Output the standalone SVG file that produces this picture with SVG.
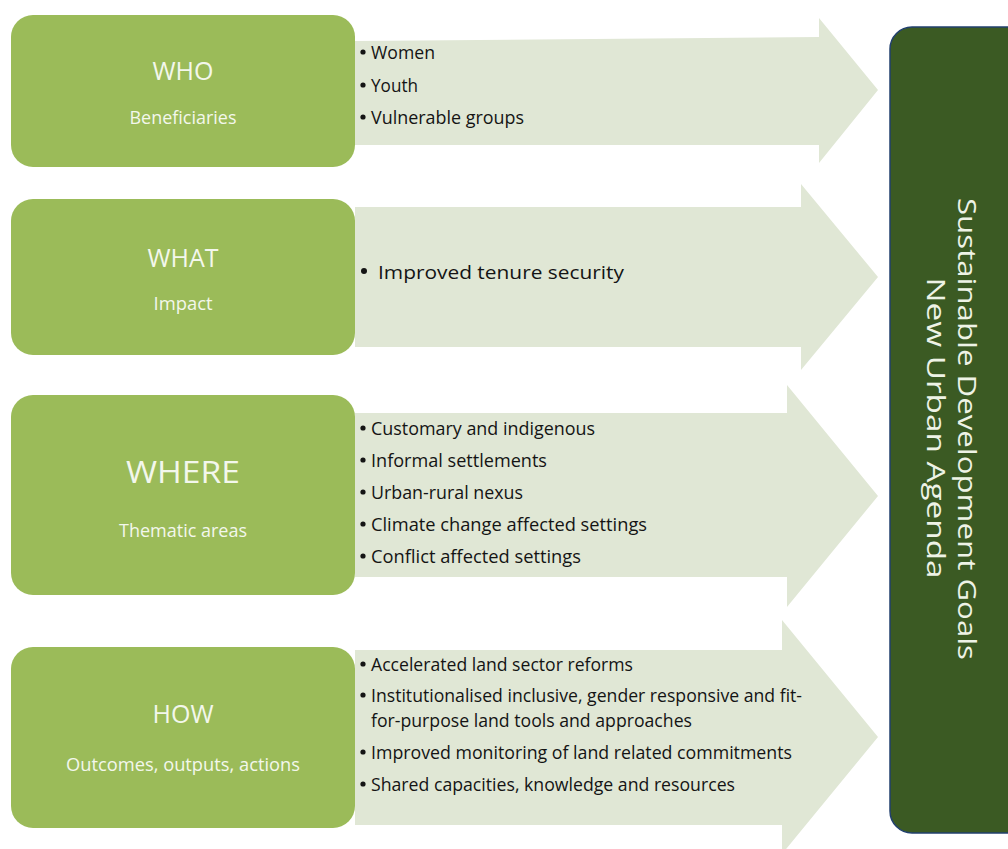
<svg xmlns="http://www.w3.org/2000/svg" width="1008" height="849" viewBox="0 0 1008 849">
<style>
.arrow{fill:#e0e7d5}
.box{fill:#9bbb59}
.h{font-family:"Open Sans","Liberation Sans",sans-serif;fill:#f3f7ec;text-anchor:middle}
.b{font-family:"Open Sans","Liberation Sans",sans-serif;fill:#141414;font-size:19px;font-weight:500}
.d{fill:#141414}
.v{font-family:"Open Sans","Liberation Sans",sans-serif;fill:#eef3e6;font-size:26px;text-anchor:middle}
</style>
<rect width="1008" height="849" fill="#ffffff"/>
<g id="connectors">
<polygon class="arrow" points="355,41 819,37 819,18 878,90 819,163 819,145 355,145"/>
<polygon class="arrow" points="355,207 801,207 801,184 878,277 801,370 801,347 355,347"/>
<polygon class="arrow" points="355,413 787,413 787,385 878,496 787,607 787,577 355,577"/>
<polygon class="arrow" points="355,650 782,650 782,620 878,737 782,854 782,825 355,825"/>
</g>
<g id="who">
<rect class="box" x="11" y="15" width="344" height="152" rx="22"/>
<text class="h" x="183" y="80" font-size="26" textLength="61" lengthAdjust="spacingAndGlyphs">WHO</text>
<text class="h" x="183" y="124" font-size="18" textLength="107" lengthAdjust="spacingAndGlyphs">Beneficiaries</text>
</g>
<g id="what">
<rect class="box" x="11" y="199" width="344" height="156" rx="22"/>
<text class="h" x="183" y="267" font-size="26" textLength="71" lengthAdjust="spacingAndGlyphs">WHAT</text>
<text class="h" x="183" y="310" font-size="18" textLength="59" lengthAdjust="spacingAndGlyphs">Impact</text>
</g>
<g id="where">
<rect class="box" x="11" y="395" width="344" height="200" rx="22"/>
<text class="h" x="183" y="483" font-size="31" textLength="114" lengthAdjust="spacingAndGlyphs">WHERE</text>
<text class="h" x="183" y="537" font-size="18" textLength="128" lengthAdjust="spacingAndGlyphs">Thematic areas</text>
</g>
<g id="how">
<rect class="box" x="11" y="647" width="344" height="181" rx="22"/>
<text class="h" x="183" y="723" font-size="26" textLength="61" lengthAdjust="spacingAndGlyphs">HOW</text>
<text class="h" x="183" y="771" font-size="18" textLength="234" lengthAdjust="spacingAndGlyphs">Outcomes, outputs, actions</text>
</g>
<g id="who-items">
<circle class="d" cx="363" cy="52" r="2.6"/><text class="b" x="371" y="59" textLength="64" lengthAdjust="spacingAndGlyphs">Women</text>
<circle class="d" cx="363" cy="85" r="2.6"/><text class="b" x="371" y="92" textLength="47" lengthAdjust="spacingAndGlyphs">Youth</text>
<circle class="d" cx="363" cy="117" r="2.6"/><text class="b" x="371" y="124" textLength="153" lengthAdjust="spacingAndGlyphs">Vulnerable groups</text>
</g>
<g id="what-items">
<circle class="d" cx="364" cy="271" r="3"/><text class="b" x="378" y="279" font-size="22" textLength="246" lengthAdjust="spacingAndGlyphs">Improved tenure security</text>
</g>
<g id="where-items">
<circle class="d" cx="363" cy="428" r="2.6"/><text class="b" x="371" y="435" textLength="224" lengthAdjust="spacingAndGlyphs">Customary and indigenous</text>
<circle class="d" cx="363" cy="460" r="2.6"/><text class="b" x="371" y="467" textLength="176" lengthAdjust="spacingAndGlyphs">Informal settlements</text>
<circle class="d" cx="363" cy="492" r="2.6"/><text class="b" x="371" y="499" textLength="152" lengthAdjust="spacingAndGlyphs">Urban-rural nexus</text>
<circle class="d" cx="363" cy="524" r="2.6"/><text class="b" x="371" y="531" textLength="276" lengthAdjust="spacingAndGlyphs">Climate change affected settings</text>
<circle class="d" cx="363" cy="556" r="2.6"/><text class="b" x="371" y="563" textLength="210" lengthAdjust="spacingAndGlyphs">Conflict affected settings</text>
</g>
<g id="how-items">
<circle class="d" cx="363" cy="664" r="2.6"/><text class="b" x="371" y="671" textLength="262" lengthAdjust="spacingAndGlyphs">Accelerated land sector reforms</text>
<circle class="d" cx="363" cy="695" r="2.6"/><text class="b" x="371" y="702" textLength="431" lengthAdjust="spacingAndGlyphs">Institutionalised inclusive, gender responsive and fit-</text>
<text class="b" x="371" y="727" textLength="321" lengthAdjust="spacingAndGlyphs">for-purpose land tools and approaches</text>
<circle class="d" cx="363" cy="752" r="2.6"/><text class="b" x="371" y="759" textLength="421" lengthAdjust="spacingAndGlyphs">Improved monitoring of land related commitments</text>
<circle class="d" cx="363" cy="784" r="2.6"/><text class="b" x="371" y="791" textLength="364" lengthAdjust="spacingAndGlyphs">Shared capacities, knowledge and resources</text>
</g>
<g id="goals">
<rect x="890" y="27" width="140" height="806" rx="22" fill="#3b5a23" stroke="#22406e" stroke-width="1.5"/>
<text class="v" transform="translate(958,429) rotate(90)" textLength="462" lengthAdjust="spacingAndGlyphs">Sustainable Development  Goals</text>
<text class="v" transform="translate(927,428) rotate(90)" textLength="301" lengthAdjust="spacingAndGlyphs">New Urban Agenda</text>
</g>
</svg>
